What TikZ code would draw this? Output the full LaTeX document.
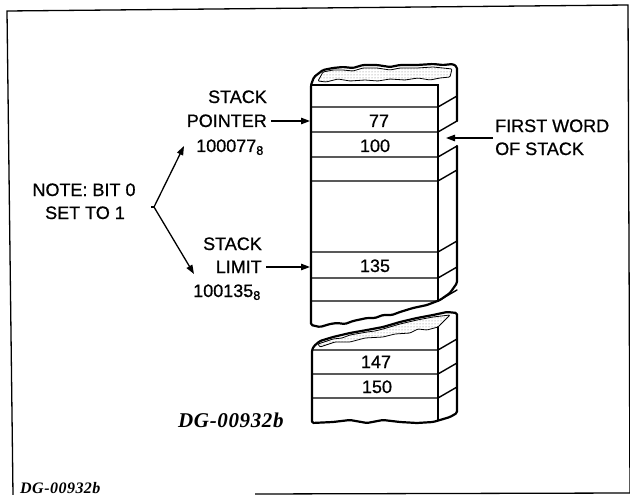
\documentclass[tikz,border=0pt]{standalone}
\usepackage{fontspec}
\setmainfont{Liberation Sans}
\newfontfamily\lblfont{Liberation Sans}[FakeBold=0.8]
\newfontfamily\dgfont{Liberation Serif}[LetterSpace=3]
\usetikzlibrary{arrows.meta,patterns}
\begin{document}
\begin{tikzpicture}[x=1pt,y=-1pt,
  outline/.style={line width=2.2pt,line join=round,line cap=round},
  rowline/.style={line width=1.4pt,line cap=round},
  lbl/.style={font=\lblfont\fontsize{18}{20}\selectfont,inner sep=0pt},
  num/.style={font=\lblfont\fontsize{18}{20}\selectfont,inner sep=0pt,anchor=base},
  arr/.style={line width=1.3pt,-{Triangle[length=9pt,width=6.5pt]}},
  stipple/.style={pattern=dots,pattern color=black!55,draw,line width=0.8pt,rounded corners=1pt},
  frame/.style={line width=1.3pt}]
\useasboundingbox (0,0) rectangle (630,495);
% frame
\coordinate (f1) at (7,11);
\coordinate (f2) at (628,5);
\coordinate (f3) at (630,493);
\coordinate (f4) at (13,495);
\coordinate (f5) at (255,494);
\draw[frame] (f4) -- (f1) -- (f2) -- (f3);
\draw[frame] (f5) -- (f3);

% ---------- upper block ----------
\draw[stipple] (323,72) -- (333,70) -- (343,70) -- (353,71) -- (363,68) -- (377,68) -- (390,70)
  -- (400,68) -- (417,68) -- (433,67) -- (443,68) -- (452,69) -- (450,77) -- (440,78) -- (430,80)
  -- (418,78) -- (405,80) -- (390,79) -- (378,81) -- (365,80) -- (350,81) -- (338,79) -- (326,82)
  -- (318,81) -- cycle;
\foreach \y in {107,132,157,181,252,278,301}
  \draw[rowline] (311,\y) -- (438,\y) -- (457,\y-11);
\draw[rowline] (311,85) -- (438,85) -- (438,301);
\draw[outline,rounded corners=1.5pt] (457,121) -- (457,67) -- (453,64) -- (443,65) -- (433,64)
  -- (417,65) -- (400,65) -- (390,67) -- (377,65) -- (363,65) -- (353,68) -- (343,67) -- (333,68)
  -- (323,70) -- (314,77) -- (311,85) -- (311,325) -- (320,327) -- (330,324) -- (337,323)
  -- (345,324) -- (353,321) -- (367,318) -- (375,318) -- (383,315) -- (392,315) -- (400,312)
  -- (413,308) -- (427,305) -- (440,300) -- (450,293) -- (457,283) -- (457,146);

% ---------- lower block ----------
\draw[stipple] (318,344) -- (333,339) -- (342,338) -- (350,335) -- (367,332) -- (375,331)
  -- (383,329) -- (400,324) -- (417,320) -- (433,317) -- (450,315) -- (445,320) -- (438,327)
  -- (427,330) -- (418,329) -- (410,333) -- (395,334) -- (383,337) -- (365,338) -- (350,342)
  -- (335,342) -- (320,347) -- cycle;
\foreach \y in {350,374,398}
  \draw[rowline] (312,\y) -- (438,\y) -- (457,\y-11);
\draw[rowline] (438,327) -- (438,420);
\draw[outline,rounded corners=1.5pt] (457,413) -- (450,417) -- (440,420) -- (433,422) -- (417,423)
  -- (400,422) -- (383,420) -- (367,423) -- (350,420) -- (333,422) -- (312,423) -- (312,350)
  -- (314,346) -- (320,341) -- (333,337) -- (350,333) -- (367,330) -- (383,327) -- (400,322)
  -- (417,318) -- (433,315) -- (447,312) -- (457,313) -- cycle;

% cell values
\node[num] (v77)  at (379,127) {77};
\node[num] (v100) at (375,152) {100};
\node[num] (v135) at (375,272) {135};
\node[num] (v147) at (376,368) {147};
\node[num] (v150) at (377,393) {150};

% left labels
\node[lbl,anchor=base east] (sp1) at (267,103) {STACK};
\node[lbl,anchor=base east] (sp2) at (267,127) {POINTER};
\node[lbl,anchor=base east] (sp3) at (264,152) {100077\textsubscript{8}};
\node[lbl,anchor=base east] (sl1) at (262,250) {STACK};
\node[lbl,anchor=base east] (sl2) at (262,273) {LIMIT};
\node[lbl,anchor=base east] (sl3) at (261,297) {100135\textsubscript{8}};
\node[lbl,anchor=base] (n1) at (84,196) {NOTE: BIT 0};
\node[lbl,anchor=base] (n2) at (85,219) {SET TO 1};
\node[lbl,anchor=base west] (fw1) at (495,132) {FIRST WORD};
\node[lbl,anchor=base west] (fw2) at (495,155) {OF STACK};

% arrows
\coordinate (spt) at (310,121);
\coordinate (slt) at (310,267);
\coordinate (fwt) at (446,138);
\coordinate (fws) at (493,138);
\coordinate (nv) at (154,207);
\coordinate (nu) at (184,146);
\coordinate (nd) at (194,274);
\draw[arr] ([xshift=4pt]sp2.east |- spt) -- (spt);
\draw[arr] ([xshift=4pt]sl2.east |- slt) -- (slt);
\draw[arr] (fws) -- (fwt);
\draw[line width=1.3pt] (nv) -- ++(-3,0);
\draw[arr] (nv) -- (nu);
\draw[arr] (nv) -- (nd);

% figure ids
\node[font=\dgfont\itshape\bfseries\fontsize{21}{23}\selectfont,inner sep=0pt,anchor=base west] (dg1) at (178,427) {DG-00932b};
\node[font=\dgfont\itshape\bfseries\fontsize{16}{18}\selectfont,inner sep=0pt,anchor=base west] (dg2) at (20,493) {DG-00932b};
\end{tikzpicture}
\end{document}
